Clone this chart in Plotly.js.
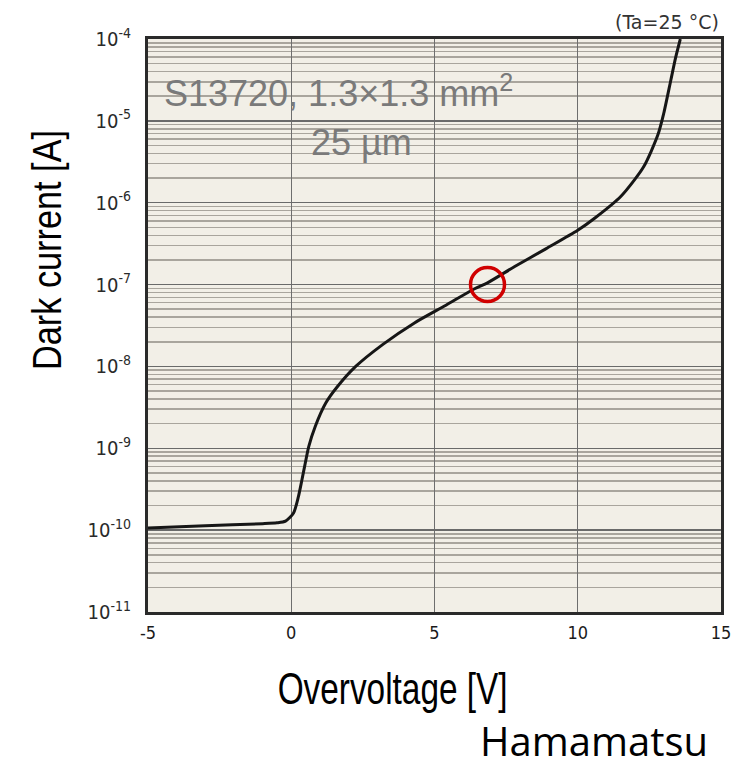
<!DOCTYPE html>
<html>
<head>
<meta charset="utf-8">
<script src="https://cdn.plot.ly/plotly-3.0.1.min.js"></script>
<style>html,body{margin:0;padding:0;background:#fff;}#chart{width:751px;height:762px;}</style>
</head>
<body>
<div id="chart"></div>
<script>
// Overvoltage [V]
const voltage = [-5, -3, -1, -0.5, -0.2, 0.08, 0.25, 0.37, 0.49, 0.61, 0.84, 1.2, 1.6, 2.25, 3.2, 4.3, 5.4, 6.4, 6.85, 7.8, 8.9, 10.0, 10.6, 11.5, 12.3, 12.8, 13.0, 13.25, 13.42, 13.58];
// Dark current [A]
const darkCurrent = [1.06e-10, 1.13e-10, 1.20e-10, 1.23e-10, 1.29e-10, 1.62e-10, 2.57e-10, 4.07e-10, 6.6e-10, 1.05e-9, 1.86e-9, 3.55e-9, 5.6e-9, 1.0e-8, 1.86e-8, 3.4e-8, 5.6e-8, 8.9e-8, 1.05e-7, 1.66e-7, 2.75e-7, 4.6e-7, 6.5e-7, 1.19e-6, 2.75e-6, 6.8e-6, 1.23e-5, 3.16e-5, 6.0e-5, 1.0e-4];
// Highlighted operating point
const markV = [6.85];
const markI = [1.0e-7];
// Tick labels
const xTicks = [-5, 0, 5, 10, 15];
const xTickText = ['-5', '0', '5', '10', '15'];
const yTicks = [1e-11, 1e-10, 1e-9, 1e-8, 1e-7, 1e-6, 1e-5, 1e-4];
const yTickText = ['10<sup>-11</sup>', '10<sup>-10</sup>', '10<sup>-9</sup>', '10<sup>-8</sup>', '10<sup>-7</sup>', '10<sup>-6</sup>', '10<sup>-5</sup>', '10<sup>-4</sup>'];

const traces = [
  {x: voltage, y: darkCurrent, type: 'scatter', mode: 'lines',
   line: {color: '#161616', width: 3, shape: 'spline', smoothing: 0.7}, hoverinfo: 'skip'},
  {x: markV, y: markI, type: 'scatter', mode: 'markers',
   marker: {symbol: 'circle-open', size: 34, color: '#d00000', line: {color: '#d00000', width: 3.5}}}
];

const sans = '"Liberation Sans", Arial, sans-serif';
const tickFamily = '"DejaVu Sans Condensed", "DejaVu Sans", Verdana, sans-serif';
const layout = {
  width: 751, height: 762,
  margin: {l: 148, r: 30, t: 39, b: 150},
  paper_bgcolor: '#ffffff',
  plot_bgcolor: '#f2efe7',
  showlegend: false,
  xaxis: {
    range: [-5, 15], tickmode: 'array', tickvals: xTicks, ticktext: xTickText,
    showgrid: true, gridcolor: '#6e6e6e', gridwidth: 1, zeroline: false,
    showline: true, mirror: true, linecolor: '#2a2a2a', linewidth: 3,
    ticks: 'outside', ticklen: 2, tickcolor: 'rgba(0,0,0,0)',
    tickfont: {family: tickFamily, size: 18, color: '#1a1a1a'}
  },
  yaxis: {
    type: 'log', range: [-11, -4], tickmode: 'array', tickvals: yTicks, ticktext: yTickText,
    showgrid: true, gridcolor: '#6a6a6a', gridwidth: 1.5, zeroline: false,
    showline: true, mirror: true, linecolor: '#2a2a2a', linewidth: 3,
    ticks: 'outside', ticklen: 10, tickcolor: 'rgba(0,0,0,0)',
    tickfont: {family: tickFamily, size: 20, color: '#2a2a2a'},
    minor: {dtick: 'D1', showgrid: true, gridcolor: '#a9a59d', gridwidth: 1.5, ticks: ''}
  },
  annotations: [
    {xref: 'paper', yref: 'paper', x: -0.176, y: 0.632, xanchor: 'center', yanchor: 'middle',
     text: 'Dark current [A]', textangle: -90, showarrow: false,
     font: {family: sans, size: 40, color: '#000'}},
    {xref: 'paper', yref: 'paper', x: 0.426, y: -0.133, xanchor: 'center', yanchor: 'middle',
     text: 'Overvoltage [V]', showarrow: false,
     font: {family: sans, size: 44, color: '#000'}},
    {xref: 'paper', yref: 'paper', x: 0.981, y: -0.224, xanchor: 'right', yanchor: 'middle',
     text: 'Hamamatsu', showarrow: false,
     font: {family: '"Open Sans", sans-serif', size: 40, color: '#000'}},
    {xref: 'paper', yref: 'paper', x: 1.0, y: 1.03, xanchor: 'right', yanchor: 'middle',
     text: '(Ta=25 °C)', showarrow: false,
     font: {family: '"DejaVu Sans", sans-serif', size: 19, color: '#333'}},
    {xref: 'paper', yref: 'paper', x: 0.025, y: 0.91, xanchor: 'left', yanchor: 'middle',
     text: 'S13720, 1.3×1.3 mm<sup>2</sup>', showarrow: false,
     font: {family: sans, size: 36, color: '#7a7a7a'}},
    {xref: 'paper', yref: 'paper', x: 0.373, y: 0.82, xanchor: 'center', yanchor: 'middle',
     text: '25 µm', showarrow: false,
     font: {family: sans, size: 36, color: '#7a7a7a'}}
  ]
};

// Target rendered widths (px) for condensed-looking titles
const squeeze = {'Dark current [A]': 240, 'Overvoltage [V]': 230};

Plotly.newPlot('chart', traces, layout, {staticPlot: true, displayModeBar: false}).then(function (gd) {
  gd.querySelectorAll('text.annotation-text').forEach(function (t) {
    const w = squeeze[t.textContent];
    if (w) {
      t.setAttribute('textLength', w);
      t.setAttribute('lengthAdjust', 'spacingAndGlyphs');
    }
  });
});
</script>
</body>
</html>
